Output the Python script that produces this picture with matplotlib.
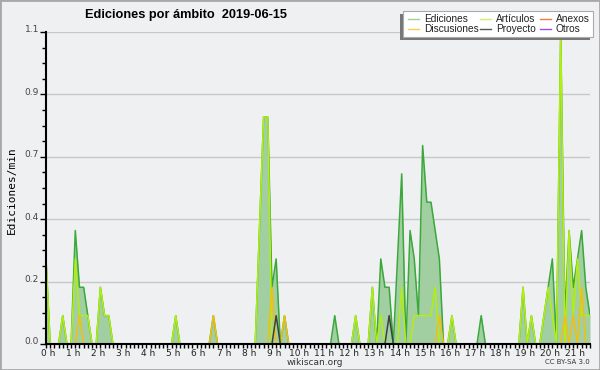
import numpy as np
import matplotlib
matplotlib.use("Agg")
import matplotlib.pyplot as plt
import matplotlib.ticker as ticker
import matplotlib.transforms as mtransforms
from matplotlib.patches import Rectangle
from matplotlib.lines import Line2D

# ediciones/min en tramos de 10 min desde las 0 h (una fila = una hora)
ediciones = [
    0.3, 0, 0, 0, 0.1, 0,          # 0 h
    0, 0.4, 0.2, 0.2, 0.1, 0,      # 1 h
    0, 0.2, 0.1, 0.1, 0, 0,        # 2 h
    0, 0, 0, 0, 0, 0,              # 3 h
    0, 0, 0, 0, 0, 0,              # 4 h
    0, 0.1, 0, 0, 0, 0,            # 5 h
    0, 0, 0, 0, 0.1, 0,            # 6 h
    0, 0, 0, 0, 0, 0,              # 7 h
    0, 0, 0, 0.4, 0.8, 0.8,        # 8 h
    0.2, 0.3, 0, 0.1, 0, 0,        # 9 h
    0, 0, 0, 0, 0, 0,              # 10 h
    0, 0, 0, 0.1, 0, 0,            # 11 h
    0, 0, 0.1, 0, 0, 0,            # 12 h
    0.2, 0, 0.3, 0.2, 0.2, 0,      # 13 h
    0.3, 0.6, 0, 0.4, 0.3, 0.1,    # 14 h
    0.7, 0.5, 0.5, 0.4, 0.3, 0,    # 15 h
    0, 0.1, 0, 0, 0, 0,            # 16 h
    0, 0, 0.1, 0, 0, 0,            # 17 h
    0, 0, 0, 0, 0, 0,              # 18 h
    0.2, 0, 0.1, 0, 0, 0.1,        # 19 h
    0.2, 0.3, 0, 1.1, 0.1, 0.4,    # 20 h
    0.2, 0.3, 0.4, 0.2, 0.1,       # 21 h
]
articulos = [
    0.3, 0, 0, 0, 0.1, 0,
    0, 0.3, 0.1, 0.1, 0.1, 0,
    0, 0.2, 0.1, 0.1, 0, 0,
    0, 0, 0, 0, 0, 0,
    0, 0, 0, 0, 0, 0,
    0, 0.1, 0, 0, 0, 0,
    0, 0, 0, 0, 0, 0,
    0, 0, 0, 0, 0, 0,
    0, 0, 0, 0.4, 0.8, 0.8,
    0, 0, 0, 0, 0, 0,
    0, 0, 0, 0, 0, 0,
    0, 0, 0, 0, 0, 0,
    0, 0, 0.1, 0, 0, 0,
    0.2, 0, 0.1, 0, 0, 0,
    0, 0.2, 0, 0, 0.1, 0.1,
    0.1, 0.1, 0.1, 0.2, 0, 0,
    0, 0.1, 0, 0, 0, 0,
    0, 0, 0, 0, 0, 0,
    0, 0, 0, 0, 0, 0,
    0.2, 0, 0.1, 0, 0, 0.1,
    0.2, 0.1, 0, 1.1, 0, 0.4,
    0.1, 0.3, 0.1, 0.1, 0.1,
]
discusiones = [
    0, 0, 0, 0, 0, 0,
    0, 0, 0.1, 0, 0, 0,
    0, 0, 0, 0, 0, 0,
    0, 0, 0, 0, 0, 0,
    0, 0, 0, 0, 0, 0,
    0, 0, 0, 0, 0, 0,
    0, 0, 0, 0, 0.1, 0,
    0, 0, 0, 0, 0, 0,
    0, 0, 0, 0, 0, 0,
    0.2, 0, 0, 0.1, 0, 0,
    0, 0, 0, 0, 0, 0,
    0, 0, 0, 0, 0, 0,
    0, 0, 0, 0, 0, 0,
    0, 0, 0, 0, 0, 0,
    0, 0, 0, 0, 0, 0,
    0, 0, 0, 0, 0.1, 0,
    0, 0, 0, 0, 0, 0,
    0, 0, 0, 0, 0, 0,
    0, 0, 0, 0, 0, 0,
    0, 0, 0, 0, 0, 0,
    0, 0, 0, 0, 0.1, 0,
    0.1, 0, 0.2, 0, 0,
]
proyecto = [0.0] * 131
proyecto[55] = 0.1
proyecto[82] = 0.1
anexos = [0.0] * 131
otros = [0.0] * 131

hour_labels = [f"{h} h" for h in range(22)]
legend_rows = [["Ediciones", "Artículos", "Anexos"],
               ["Discusiones", "Proyecto", "Otros"]]

BG = "#eff0f2"
C_ED = "#3aa83a"
C_FILL = "#a2cfa2"
C_ART = "#b2ee10"
C_DIS = "#f2bf10"
C_PRO = "#404040"
C_ANE = "#f57a45"
C_OTR = "#9a4cf2"
legend_colors = [[C_FILL, "#cdef6a", C_ANE], ["#f8cc55", "#555555", C_OTR]]

W, H = 600, 370
fig = plt.figure(figsize=(6, 3.7), dpi=100, facecolor=BG)
ax = fig.add_axes([46 / W, 26 / H, 544 / W, 312 / H])
ax.set_facecolor(BG)

t = np.arange(len(ediciones)) / 6.0
ax.fill_between(t, 0, ediciones, color=C_FILL, lw=0, zorder=1)
ax.plot(t, ediciones, color=C_ED, lw=1.1, zorder=2)
ax.plot(t, articulos, color=C_ART, lw=1.1, zorder=3)
ax.plot(t, anexos, color=C_ANE, lw=1.1, zorder=3)
ax.plot(t, discusiones, color=C_DIS, lw=1.1, zorder=4)
ax.plot(t, proyecto, color=C_PRO, lw=1.1, zorder=5)
ax.plot(t, otros, color=C_OTR, lw=1.1, zorder=3)

ax.set_xlim(0, 130 / 6)
ax.set_ylim(0, 1.1)

ax.set_yticks(np.linspace(0, 1.1, 6))
ax.yaxis.set_major_formatter(ticker.FormatStrFormatter("%.1f"))
ax.yaxis.set_minor_locator(ticker.MultipleLocator(0.055))
ax.set_xticks(range(22))
ax.set_xticklabels(hour_labels)
ax.xaxis.set_minor_locator(ticker.MultipleLocator(1 / 6))

ax.tick_params(axis="y", which="major", direction="out", length=4, width=1,
               labelsize=6.5, labelcolor="#444444", pad=1)
ax.tick_params(axis="y", which="minor", direction="out", length=3, width=1)
ax.tick_params(axis="x", which="both", direction="out", length=3, width=1,
               labelsize=6.5, labelcolor="#222222", pad=0.5)
for lab in ax.get_yticklabels():
    lab.set_transform(lab.get_transform() +
                      mtransforms.ScaledTranslation(0, 3 / 100, fig.dpi_scale_trans))
for lab in ax.get_xticklabels():
    lab.set_transform(lab.get_transform() +
                      mtransforms.ScaledTranslation(2 / 100, 0, fig.dpi_scale_trans))

ax.grid(axis="y", color="#c8c8c8", lw=1)
ax.set_axisbelow(True)
for s in ["top", "right"]:
    ax.spines[s].set_visible(False)
for s in ["left", "bottom"]:
    ax.spines[s].set_linewidth(1.5)
    ax.spines[s].set_zorder(10)

fig.text(12 / W, 1 - 190 / H, "Ediciones/min", rotation=90, ha="center",
         va="center", fontsize=8, family="DejaVu Sans Mono")
fig.text(85 / W, 1 - 15 / H, "Ediciones por ámbito  2019-06-15",
         ha="left", va="center", fontsize=9.2, fontweight="bold",
         family="Liberation Sans")
fig.text(315 / W, 1 - 362.5 / H, "wikiscan.org", ha="center", va="center",
         fontsize=6.5, color="#333333")
fig.text(590 / W, 1 - 362.5 / H, "CC BY-SA 3.0", ha="right", va="center",
         fontsize=5, color="#333333")

# leyenda dibujada a mano, con sombra abajo a la izquierda
def fx(x):
    return x / W

def fy(y):
    return 1 - y / H

fig.patches.append(Rectangle((fx(400), fy(40)), 190 / W, 26 / H,
                             transform=fig.transFigure, facecolor="#777777",
                             edgecolor="none", zorder=20))
fig.patches.append(Rectangle((fx(403), fy(37)), 190 / W, 26 / H,
                             transform=fig.transFigure, facecolor="white",
                             edgecolor="#aaaaaa", lw=0.8, zorder=21))
col_x = [(408, 424), (480, 496), (540, 556)]
row_y = [18.5, 29]
for r, row in enumerate(legend_rows):
    for c, name in enumerate(row):
        x0, xt = col_x[c]
        y = row_y[r]
        fig.lines.append(Line2D([fx(x0), fx(x0 + 11)], [fy(y), fy(y)],
                                transform=fig.transFigure,
                                color=legend_colors[r][c], lw=1, zorder=22))
        fig.text(fx(xt), fy(y), name, ha="left", va="center", fontsize=7.3,
                 family="Liberation Sans", color="#222222", zorder=23)

fig.patches.append(Rectangle((0, 0), 1, 1, transform=fig.transFigure,
                             facecolor="none", edgecolor="#a8a8a8", lw=2))

fig.savefig("out.png", dpi=100, facecolor=BG)
